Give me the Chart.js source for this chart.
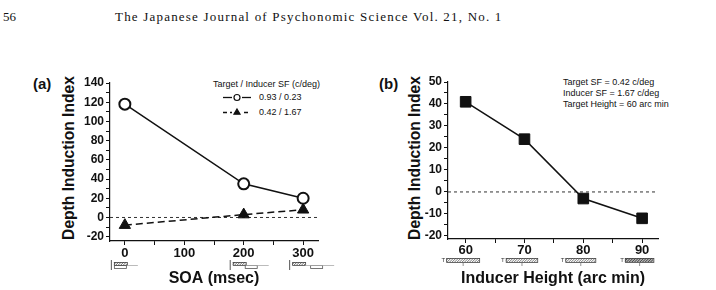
<!DOCTYPE html>
<html>
<head>
<meta charset="utf-8">
<script src="https://cdn.jsdelivr.net/npm/chart.js@4"></script>
<style>
  body { margin: 0; width: 716px; height: 290px; background: #fff; position: relative; overflow: hidden; font-family: "Liberation Sans", Arial, sans-serif; color: #111; }
  canvas { position: absolute; top: 0; }
  #chartA { left: 0; }
  #chartB { left: 358px; }
  .txt { position: absolute; white-space: nowrap; line-height: 1; }
  .serif { font-family: "Liberation Serif", "Times New Roman", serif; font-size: 13px; }
  .panel { font-weight: bold; font-size: 15px; }
  .leg { font-size: 9px; }
  .ytitle { position: absolute; width: 220px; text-align: center; white-space: nowrap; line-height: 1;
            font-weight: bold; font-size: 15.6px; transform: translate(-50%, -50%) rotate(-90deg); }
</style>
</head>
<body>
<div class="txt serif" style="left:3px; top:10px;">56</div>
<div class="txt serif" style="left:115px; top:10px; letter-spacing:1.2px;">The Japanese Journal of Psychonomic Science Vol. 21, No. 1</div>

<div class="txt panel" style="left:33px; top:76px;">(a)</div>
<div class="txt panel" style="left:379px; top:76px;">(b)</div>

<div class="ytitle" style="left:69px; top:158px;">Depth Induction Index</div>
<div class="ytitle" style="left:415px; top:158px;">Depth Induction Index</div>

<div class="txt leg" style="left:213px; top:80px;">Target / Inducer SF (c/deg)</div>
<div class="txt leg" style="left:259px; top:93px;">0.93 / 0.23</div>
<div class="txt leg" style="left:259px; top:108px;">0.42 / 1.67</div>

<div class="txt leg" style="left:563px; top:78px;">Target SF = 0.42 c/deg</div>
<div class="txt leg" style="left:563px; top:89px;">Inducer SF = 1.67 c/deg</div>
<div class="txt leg" style="left:563px; top:100px;">Target Height = 60 arc min</div>

<canvas id="chartA" width="358" height="290"></canvas>
<canvas id="chartB" width="358" height="290"></canvas>

<script>
// panel (a): depth induction vs SOA
const soa = [0, 200, 300];
const diHighTarget = [118, 35, 20];   // 0.93 / 0.23
const diLowTarget = [-8, 3, 8];       // 0.42 / 1.67
const soaTicks = [0, 50, 100, 150, 200, 250, 300];
const diTicksA = [-20, -10, 0, 10, 20, 30, 40, 50, 60, 70, 80, 90, 100, 110, 120, 130, 140];

// panel (b): depth induction vs inducer height
const inducerHeight = [60, 70, 80, 90];
const diHeight = [41, 24, -3, -12];
const heightTicks = [60, 65, 70, 75, 80, 85, 90];
const diTicksB = [-20, -15, -10, -5, 0, 5, 10, 15, 20, 25, 30, 35, 40, 45, 50];

const INK = '#111';
Chart.defaults.font.family = '"Liberation Sans", Arial, sans-serif';
Chart.defaults.color = INK;
Chart.defaults.animation = false;

// dotted line at zero
const zeroLine = {
  id: 'zeroLine',
  beforeDatasetsDraw(chart) {
    const { ctx, chartArea, scales } = chart;
    const y = scales.y.getPixelForValue(0);
    ctx.save();
    ctx.strokeStyle = '#333';
    ctx.lineWidth = 1;
    ctx.setLineDash([3, 3]);
    ctx.beginPath();
    ctx.moveTo(chartArea.left, y);
    ctx.lineTo(chartArea.right, y);
    ctx.stroke();
    ctx.restore();
  }
};

function hatch(ctx, x, y, w, h, step, color) {
  ctx.save();
  ctx.beginPath();
  ctx.rect(x, y, w, h);
  ctx.clip();
  ctx.strokeStyle = color;
  ctx.lineWidth = 0.8;
  ctx.beginPath();
  for (let i = -h; i < w + h; i += step) {
    ctx.moveTo(x + i, y + h);
    ctx.lineTo(x + i + h, y);
  }
  ctx.stroke();
  ctx.restore();
  ctx.strokeStyle = '#444';
  ctx.lineWidth = 0.8;
  ctx.strokeRect(x + 0.5, y + 0.5, w, h);
}

// little timing diagrams under the SOA ticks
const soaIcons = {
  id: 'soaIcons',
  afterDraw(chart) {
    const { ctx, scales } = chart;
    const yTop = scales.x.top + 20;
    soa.forEach(s => {
      const x0 = scales.x.getPixelForValue(s) - 14;
      ctx.save();
      ctx.strokeStyle = '#555';
      ctx.lineWidth = 1;
      ctx.beginPath();
      ctx.moveTo(x0 + 0.5, yTop - 1);
      ctx.lineTo(x0 + 0.5, yTop + 9);
      ctx.stroke();
      hatch(ctx, x0 + 3, yTop + 1, 13, 3, 2.5, '#444');
      const ix = x0 + 3 + s * 0.06;
      ctx.strokeStyle = '#555';
      ctx.strokeRect(ix + 0.5, yTop + 4.5, 12, 3);
      ctx.strokeStyle = '#aaa';
      ctx.beginPath();
      ctx.moveTo(x0 + 16, yTop + 4.5);
      ctx.lineTo(ix + 24, yTop + 4.5);
      ctx.stroke();
      ctx.restore();
    });
  }
};

// inducer bars under the height ticks
const heightIcons = {
  id: 'heightIcons',
  afterDraw(chart) {
    const { ctx, scales } = chart;
    const y = scales.x.top + 19;
    inducerHeight.forEach((h, i) => {
      const cx = scales.x.getPixelForValue(h) - 3;
      const w = 33 - i * 1.5;
      ctx.save();
      ctx.fillStyle = '#333';
      ctx.font = '6px "Liberation Sans"';
      ctx.textBaseline = 'middle';
      ctx.textAlign = 'right';
      ctx.fillText('T', cx - w / 2 - 1, y + 2);
      hatch(ctx, cx - w / 2, y, w, 4, i === 3 ? 1.6 : 2.5, i === 3 ? '#111' : '#555');
      ctx.strokeStyle = '#777';
      ctx.beginPath();
      ctx.moveTo(cx + 0.5, y + 5);
      ctx.lineTo(cx + 0.5, y + 8);
      ctx.stroke();
      ctx.restore();
    });
  }
};

// small legend samples (line + marker) for panel (a)
const legendSamples = {
  id: 'legendSamples',
  afterDraw(chart) {
    const { ctx } = chart;
    const rows = [
      { y: 97.5, dash: [], style: 'circle', fill: '#fff', r: 3 },
      { y: 112.5, dash: [4, 3], style: 'triangle', fill: INK, r: 3.5 }
    ];
    rows.forEach(row => {
      ctx.save();
      ctx.strokeStyle = INK;
      ctx.lineWidth = 1.3;
      ctx.setLineDash(row.dash);
      ctx.beginPath();
      ctx.moveTo(223, row.y);
      ctx.lineTo(251, row.y);
      ctx.stroke();
      ctx.setLineDash([]);
      ctx.fillStyle = '#fff';
      ctx.fillRect(232, row.y - 4, 10, 8);
      ctx.fillStyle = row.fill;
      ctx.lineWidth = 1.2;
      Chart.helpers.drawPoint(ctx, { pointStyle: row.style, radius: row.r, borderWidth: 1.2 }, 237, row.y);
      ctx.restore();
    });
  }
};

function fixedTicks(values) {
  return scale => { scale.ticks = values.map(v => ({ value: v })); };
}

new Chart(document.getElementById('chartA'), {
  type: 'line',
  data: {
    datasets: [
      {
        label: '0.93 / 0.23',
        data: soa.map((s, i) => ({ x: s, y: diHighTarget[i] })),
        borderColor: INK,
        borderWidth: 1.5,
        pointStyle: 'circle',
        pointRadius: 5.5,
        pointBorderWidth: 2,
        pointBackgroundColor: '#fff',
        pointBorderColor: INK
      },
      {
        label: '0.42 / 1.67',
        data: soa.map((s, i) => ({ x: s, y: diLowTarget[i] })),
        borderColor: INK,
        borderWidth: 1.5,
        borderDash: [7, 4],
        pointStyle: 'triangle',
        pointRadius: 6.5,
        pointBorderWidth: 1,
        pointBackgroundColor: INK,
        pointBorderColor: INK
      }
    ]
  },
  options: {
    responsive: false,
    layout: { padding: { left: 0, right: 40, top: 83, bottom: 0 } },
    plugins: { legend: { display: false }, tooltip: { enabled: false } },
    scales: {
      x: {
        type: 'linear',
        min: -25,
        max: 325,
        afterBuildTicks: fixedTicks(soaTicks),
        afterFit: scale => { scale.height = 49; },
        ticks: {
          autoSkip: false,
          maxRotation: 0,
          padding: 1,
          font: { size: 13, weight: 'bold' },
          callback: v => (v % 100 === 0 ? v : '')
        },
        grid: { drawOnChartArea: false, tickLength: 4, color: INK, tickColor: INK },
        border: { color: INK, width: 1.2 },
        title: { display: true, text: 'SOA (msec)', font: { size: 16, weight: 'bold' }, padding: { top: 0, bottom: 2 } }
      },
      y: {
        min: -24.5,
        max: 140,
        afterBuildTicks: fixedTicks(diTicksA),
        afterFit: scale => { scale.width = 110; },
        ticks: {
          autoSkip: false,
          padding: 2,
          font: { size: 12, weight: 'bold' },
          callback: v => (v % 20 === 0 ? v : '')
        },
        grid: { drawOnChartArea: false, tickLength: 4, color: INK, tickColor: INK },
        border: { color: INK, width: 1.2 }
      }
    }
  },
  plugins: [zeroLine, soaIcons, legendSamples]
});

new Chart(document.getElementById('chartB'), {
  type: 'line',
  data: {
    datasets: [
      {
        label: 'Depth Induction Index',
        data: inducerHeight.map((h, i) => ({ x: h, y: diHeight[i] })),
        borderColor: INK,
        borderWidth: 1.5,
        pointStyle: 'rect',
        pointRadius: 7.5,
        pointBorderWidth: 1,
        pointBackgroundColor: INK,
        pointBorderColor: INK
      }
    ]
  },
  options: {
    responsive: false,
    layout: { padding: { left: 0, right: 58, top: 82, bottom: 0 } },
    plugins: { legend: { display: false }, tooltip: { enabled: false } },
    scales: {
      x: {
        type: 'linear',
        min: 57,
        max: 92.7,
        afterBuildTicks: fixedTicks(heightTicks),
        afterFit: scale => { scale.height = 51; },
        ticks: {
          autoSkip: false,
          maxRotation: 0,
          padding: 0,
          font: { size: 13, weight: 'bold' },
          callback: v => (v % 10 === 0 ? v : '')
        },
        grid: { drawOnChartArea: false, tickLength: 4, color: INK, tickColor: INK },
        border: { color: INK, width: 1.2 },
        title: { display: true, text: 'Inducer Height (arc min)', font: { size: 16, weight: 'bold' }, padding: { top: 0, bottom: 2 } }
      },
      y: {
        min: -21.4,
        max: 50,
        afterBuildTicks: fixedTicks(diTicksB),
        afterFit: scale => { scale.width = 90; },
        ticks: {
          autoSkip: false,
          padding: 2,
          font: { size: 12, weight: 'bold' },
          callback: v => (v % 10 === 0 ? v : '')
        },
        grid: { drawOnChartArea: false, tickLength: 4, color: INK, tickColor: INK },
        border: { color: INK, width: 1.2 }
      }
    }
  },
  plugins: [zeroLine, heightIcons]
});
</script>
</body>
</html>
